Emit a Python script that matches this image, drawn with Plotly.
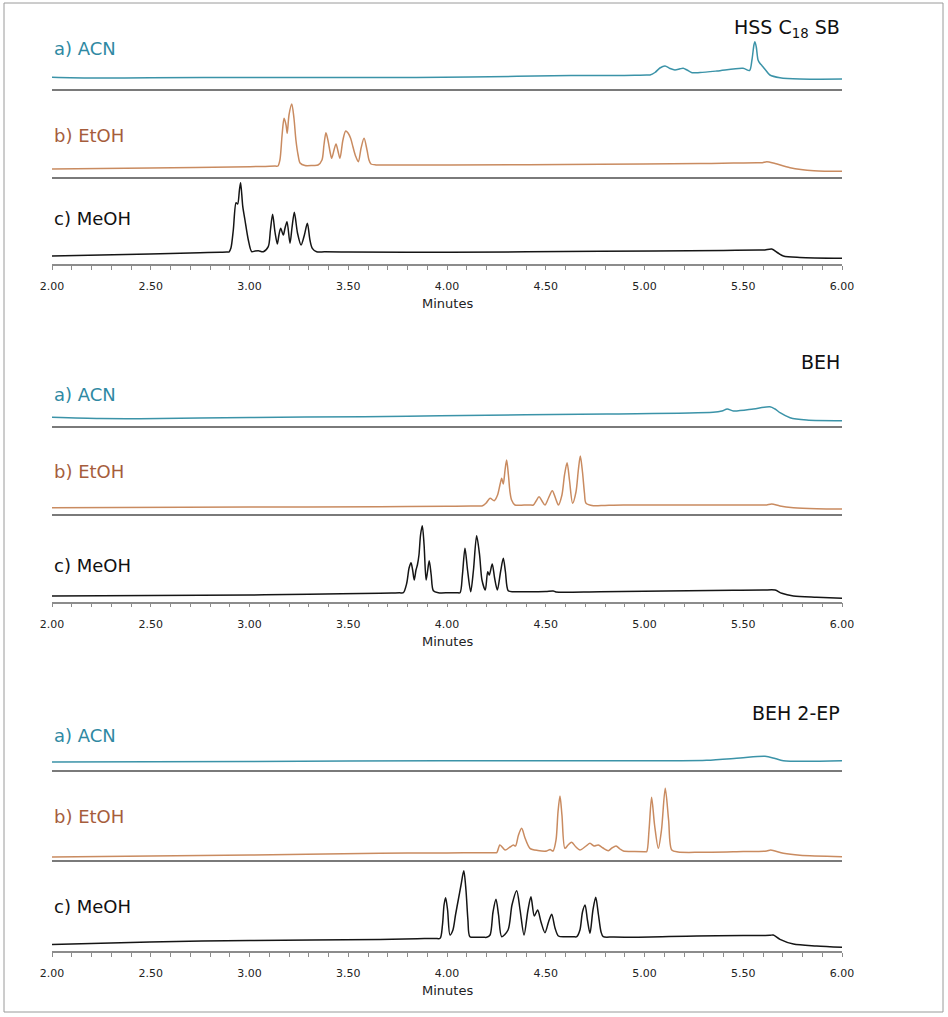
import plotly.graph_objects as go

# ---------------- data (minutes, detector response) ----------------
hss_acn = [(2.000,11.2),(2.197,10.5),(2.496,10.7),(3.003,11.0),(3.580,10.9),(4.116,11.5),(4.628,13.0),(4.876,13.0),
           (4.950,13.2),(5.010,13.5),(5.028,13.5),(5.053,16.0),(5.078,20.5),(5.104,22.5),(5.129,20.0),(5.154,18.5),
           (5.180,19.7),(5.196,20.2),(5.215,18.5),(5.241,15.8),(5.281,16.0),(5.367,17.5),(5.499,20.2),(5.532,18.0),
           (5.544,28.5),(5.554,43.5),(5.559,46.8),(5.566,41.5),(5.575,28.5),(5.585,25.0),(5.595,22.8),(5.615,18.0),
           (5.635,13.5),(5.686,10.8),(5.787,9.5),(6.000,9.5)]
hss_etoh = [(2.000,7.7),(2.496,8.7),(3.003,10.0),(3.080,10.3),(3.130,10.6),(3.144,10.7),(3.154,16.7),(3.165,41.7),
            (3.175,58.4),(3.185,51.7),(3.191,43.4),(3.200,61.7),(3.214,72.7),(3.225,58.7),(3.235,36.7),(3.246,21.7),
            (3.256,13.7),(3.281,11.2),(3.320,11.3),(3.347,11.7),(3.367,16.7),(3.377,31.7),(3.387,44.0),(3.397,36.7),
            (3.408,24.7),(3.416,18.4),(3.428,26.7),(3.438,32.7),(3.448,25.7),(3.458,18.4),(3.473,36.7),(3.487,45.7),
            (3.499,43.7),(3.512,38.4),(3.524,29.7),(3.537,20.7),(3.551,15.0),(3.565,28.7),(3.580,38.4),(3.595,26.7),
            (3.605,16.7),(3.615,12.7),(3.640,11.8),(3.661,11.7),(3.750,11.7),(4.015,11.7),(4.775,12.4),(5.281,13.2),
            (5.450,13.6),(5.570,13.9),(5.597,14.0),(5.619,15.0),(5.661,13.2),(5.737,9.0),(5.858,6.0),(6.000,5.4)]
hss_meoh = [(2.000,8.0),(2.496,10.0),(2.749,11.3),(2.850,11.8),(2.885,12.0),(2.896,12.0),(2.906,16.0),(2.918,34.0),
            (2.932,61.3),(2.940,60.0),(2.949,74.0),(2.955,81.3),(2.966,57.3),(2.977,44.0),(2.994,24.0),(3.011,12.3),
            (3.028,13.0),(3.045,13.3),(3.070,12.3),(3.095,17.3),(3.106,34.0),(3.117,49.7),(3.129,32.0),(3.141,20.0),
            (3.149,29.0),(3.158,35.7),(3.171,29.0),(3.180,36.0),(3.190,42.3),(3.205,20.7),(3.215,36.0),(3.227,51.7),
            (3.243,31.0),(3.261,19.0),(3.278,29.0),(3.293,40.7),(3.306,24.0),(3.318,15.7),(3.340,12.3),(3.380,12.2),
            (3.500,12.0),(4.015,11.7),(4.775,12.7),(5.400,13.6),(5.580,14.0),(5.610,14.0),(5.644,15.0),(5.676,11.0),
            (5.703,8.0),(5.787,6.5),(6.000,5.7)]

beh_acn = [(2.000,8.7),(2.243,7.5),(2.446,7.3),(3.003,8.5),(3.580,9.3),(3.965,10.3),(4.810,12.0),(5.347,13.7),
           (5.392,15.0),(5.419,17.0),(5.450,15.0),(5.551,17.0),(5.635,19.3),(5.661,17.0),(5.686,13.3),(5.737,8.3),
           (5.821,6.0),(6.000,5.3)]
beh_etoh = [(2.000,6.3),(3.003,7.0),(3.661,7.3),(4.000,7.8),(4.120,8.0),(4.167,8.0),(4.180,8.3),(4.197,10.7),
            (4.218,15.7),(4.239,13.3),(4.256,19.0),(4.268,29.0),(4.277,35.7),(4.285,30.0),(4.294,44.0),(4.302,54.0),
            (4.311,39.0),(4.319,22.0),(4.327,14.0),(4.344,9.0),(4.390,9.0),(4.420,9.0),(4.437,9.0),(4.451,13.0),
            (4.466,17.3),(4.481,13.0),(4.496,9.0),(4.514,16.0),(4.533,23.3),(4.549,16.0),(4.564,9.0),(4.582,19.0),
            (4.595,39.0),(4.608,51.3),(4.620,34.0),(4.636,10.7),(4.653,22.0),(4.665,44.0),(4.675,58.0),(4.686,42.0),
            (4.696,21.0),(4.704,10.7),(4.741,8.3),(4.800,8.6),(4.893,9.0),(5.382,9.0),(5.550,9.0),(5.600,9.0),
            (5.619,9.0),(5.644,10.0),(5.686,8.0),(5.754,6.3),(5.872,5.3),(6.000,5.0)]
beh_meoh = [(2.000,5.7),(3.003,6.7),(3.300,7.5),(3.661,8.4),(3.720,8.7),(3.760,8.9),(3.779,9.0),(3.796,18.4),
            (3.808,33.7),(3.818,39.0),(3.826,31.7),(3.834,21.7),(3.843,31.7),(3.850,36.7),(3.858,46.7),(3.866,66.7),
            (3.875,76.0),(3.884,56.7),(3.894,21.7),(3.901,29.7),(3.910,41.0),(3.920,26.7),(3.931,11.0),(3.956,9.0),
            (4.010,9.0),(4.050,9.0),(4.066,9.0),(4.078,26.7),(4.091,53.4),(4.104,31.7),(4.120,10.0),(4.134,31.7),
            (4.150,66.0),(4.165,46.7),(4.177,21.7),(4.194,11.7),(4.206,30.0),(4.214,26.7),(4.229,37.7),(4.241,23.7),
            (4.255,11.7),(4.271,29.7),(4.285,43.4),(4.296,29.7),(4.310,11.0),(4.336,10.0),(4.400,10.0),(4.500,10.3),
            (4.538,10.7),(4.552,9.7),(4.775,10.0),(5.448,11.4),(5.600,11.6),(5.661,11.7),(5.695,8.4),(5.754,5.7),
            (5.872,4.4),(6.000,3.4)]

beh2ep_acn = [(2.000,8.0),(3.003,8.5),(3.965,9.3),(5.144,9.3),(5.315,9.7),(5.484,12.0),(5.610,13.7),(5.661,11.5),
              (5.703,9.3),(6.000,9.3)]
beh2ep_etoh = [(2.000,3.0),(3.003,5.0),(3.661,6.8),(4.000,7.1),(4.200,7.3),(4.240,7.3),(4.252,7.3),(4.268,15.0),
               (4.294,10.0),(4.319,13.0),(4.336,15.0),(4.347,14.0),(4.362,25.0),(4.378,31.7),(4.395,22.0),(4.420,11.7),
               (4.460,9.5),(4.505,9.0),(4.522,10.5),(4.537,9.0),(4.552,20.0),(4.562,48.0),(4.572,64.0),(4.582,45.0),
               (4.597,11.7),(4.613,15.0),(4.631,17.7),(4.653,13.0),(4.673,10.0),(4.704,14.0),(4.724,16.7),(4.744,14.0),
               (4.766,15.0),(4.790,12.0),(4.817,9.3),(4.835,12.0),(4.856,14.0),(4.876,11.0),(4.893,9.0),(4.950,8.5),
               (5.000,8.3),(5.011,8.3),(5.023,30.0),(5.036,62.7),(5.051,35.0),(5.070,11.7),(5.086,30.0),(5.105,71.7),
               (5.122,40.0),(5.138,10.0),(5.170,8.0),(5.281,7.7),(5.500,8.5),(5.619,9.0),(5.639,10.0),(5.703,6.7),
               (5.787,4.7),(6.000,3.3)]
beh2ep_meoh = [(2.000,6.5),(2.496,9.0),(3.003,10.5),(3.661,11.5),(3.850,12.3),(3.940,12.6),(3.965,12.7),(3.977,26.0),
               (3.985,46.0),(3.993,53.3),(4.003,41.0),(4.015,16.0),(4.030,21.0),(4.043,36.0),(4.057,51.0),(4.071,66.0),
               (4.085,80.3),(4.096,61.0),(4.106,31.0),(4.116,14.3),(4.150,13.8),(4.185,13.7),(4.201,13.7),(4.218,16.0),
               (4.233,39.0),(4.248,51.7),(4.261,36.0),(4.277,14.3),(4.309,21.0),(4.329,46.0),(4.353,60.3),(4.370,41.0),
               (4.390,16.0),(4.410,41.0),(4.425,54.3),(4.442,35.0),(4.459,41.0),(4.476,29.0),(4.496,18.3),(4.514,29.0),
               (4.530,36.7),(4.547,23.0),(4.564,15.0),(4.600,14.3),(4.640,14.3),(4.657,14.3),(4.673,21.0),(4.686,39.0),
               (4.699,46.0),(4.711,31.0),(4.724,17.7),(4.739,41.0),(4.753,53.7),(4.767,36.0),(4.780,19.0),(4.791,14.3),
               (4.840,14.0),(4.943,13.7),(5.264,15.0),(5.500,15.4),(5.600,15.6),(5.635,15.7),(5.652,16.0),(5.686,11.7),
               (5.754,7.0),(5.872,5.0),(6.000,3.7)]

column_titles = ["HSS C<sub>18</sub> SB", "BEH", "BEH 2-EP"]
solvent_labels = ["a) ACN", "b) EtOH", "c) MeOH"]
x_ticks = [2.0, 2.5, 3.0, 3.5, 4.0, 4.5, 5.0, 5.5, 6.0]
x_title = "Minutes"

# ---------------- styling / layout ----------------
W, H = 948, 1017
FONT = "DejaVu Sans"
trace_colors = ["#3b93a8", "#c98b60", "#151515"]
label_colors = ["#2f89a3", "#a65d3c", "#111111"]

def py(p):
    return 1 - p / H

X0, X1 = 52, 842
strips = [
    [(30, 88.5), (95, 176.7), (178, 264)],
    [(380, 426), (440, 514), (518, 601.7)],
    [(730, 770), (780, 860), (865, 951)],
]
title_y = [28, 362, 713]
label_y = [[49, 136, 218], [394, 471.5, 565], [735, 816, 906]]
minutes_y = [303, 641, 990]

series = [[hss_acn, hss_etoh, hss_meoh], [beh_acn, beh_etoh, beh_meoh], [beh2ep_acn, beh2ep_etoh, beh2ep_meoh]]

fig = go.Figure()
lay = {}
annotations = []
idx = 0
for p in range(3):
    for s in range(3):
        idx += 1
        data = series[p][s]
        xs = [d[0] for d in data]
        ys = [d[1] for d in data]
        top, bot = strips[p][s]
        xn = "x" if idx == 1 else f"x{idx}"
        yn = "y" if idx == 1 else f"y{idx}"
        fig.add_trace(go.Scatter(x=xs, y=ys, mode="lines", xaxis=xn, yaxis=yn,
                                 line=dict(color=trace_colors[s], width=1.5, shape="spline", smoothing=0.8),
                                 hoverinfo="skip", showlegend=False))
        xa = dict(domain=[X0 / W, X1 / W], range=[2, 6], anchor=yn, showgrid=False, zeroline=False,
                  showline=True, fixedrange=True, automargin=False)
        if s < 2:
            xa.update(linecolor="#7a7a7a", linewidth=2, ticks="", showticklabels=False)
        else:
            xa.update(linecolor="#8c8c8c", linewidth=1.5, ticks="outside", ticklen=4, tickwidth=1,
                      tickcolor="#8c8c8c", tickmode="array", tickvals=x_ticks,
                      ticktext=[f"{v:.2f}" for v in x_ticks],
                      tickfont=dict(size=11, color="#222222", family=FONT), ticklabelstandoff=7,
                      minor=dict(dtick=0.1, tick0=2, ticks="outside", ticklen=4, tickwidth=1, tickcolor="#8c8c8c"))
        ya = dict(domain=[py(bot), py(top)], range=[0, bot - top], anchor=xn, visible=False, fixedrange=True)
        lay["xaxis" if idx == 1 else f"xaxis{idx}"] = xa
        lay["yaxis" if idx == 1 else f"yaxis{idx}"] = ya
        annotations.append(dict(x=X0 / W, y=py(label_y[p][s]), xref="paper", yref="paper", text=solvent_labels[s],
                                showarrow=False, xanchor="left", yanchor="middle",
                                font=dict(size=18, color=label_colors[s], family=FONT)))
    annotations.append(dict(x=842 / W, y=py(title_y[p]), xref="paper", yref="paper", text=column_titles[p],
                            showarrow=False, xanchor="right", yanchor="middle",
                            font=dict(size=19, color="#111111", family=FONT)))
    annotations.append(dict(x=(X0 + X1) / 2 / W, y=py(minutes_y[p]), xref="paper", yref="paper", text=x_title,
                            showarrow=False, xanchor="center", yanchor="middle",
                            font=dict(size=13, color="#222222", family=FONT)))

fig.update_layout(width=W, height=H, autosize=False, margin=dict(l=0, r=0, t=0, b=0, pad=0),
                  paper_bgcolor="white", plot_bgcolor="white", annotations=annotations, showlegend=False,
                  font=dict(family=FONT),
                  shapes=[dict(type="rect", xref="paper", yref="paper", x0=4 / W, x1=943 / W, y0=py(1012), y1=py(3),
                               line=dict(color="#9a9a9a", width=1))],
                  **lay)
fig.write_html("out.html", config={"displayModeBar": False, "responsive": False},
               post_script="document.body.style.margin='0px';document.body.style.padding='0px';"
                           "document.body.style.overflow='hidden';")
